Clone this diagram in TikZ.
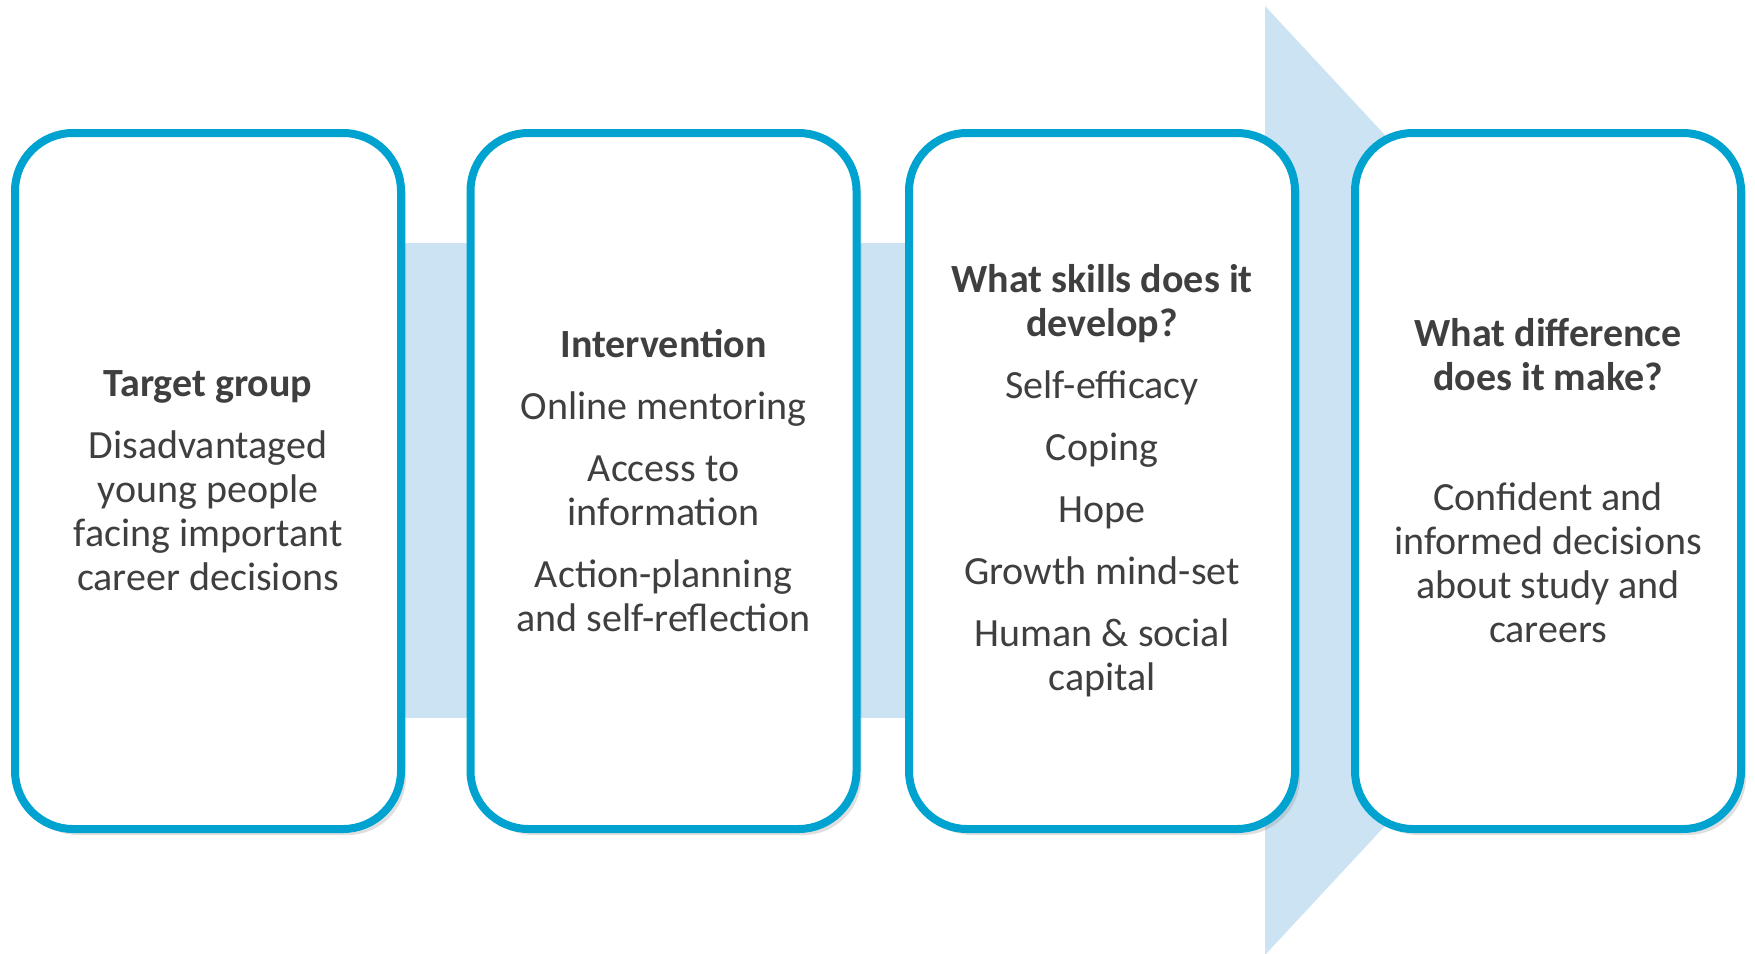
\documentclass[tikz,border=0pt]{standalone}
\usepackage{fontspec}
\setmainfont{Carlito}
\usetikzlibrary{shadows}
\definecolor{frameblue}{HTML}{00A3D0}
\definecolor{bandblue}{HTML}{CBE3F3}
\definecolor{textgray}{HTML}{3F3F3F}
\tikzset{
    stage/.style={draw=frameblue, line width=4pt, fill=white, rounded corners=29pt,
        minimum width=193pt, minimum height=348pt, align=center, text=textgray,
        font=\fontsize{20}{22}\selectfont,
        drop shadow={opacity=0.25, shadow xshift=2.5pt, shadow yshift=-3pt}}, % 圆角方框的样式
    band/.style={fill=bandblue} % 背景箭头的样式
}

\begin{document}
\begin{tikzpicture}[x=0.5pt, y=-0.5pt]
    \def\bandtop{243} \def\bandbot{718} \def\headx{1265} \def\tipx{1706}
    \useasboundingbox (0,0) rectangle (1755,953);
    \clip (0,0) rectangle (1755,953);

    \fill[band] (200,\bandtop) rectangle (\headx+2,\bandbot);
    \fill[band] (\headx,6) -- (\tipx,480.5) -- (\headx,955) -- cycle;

    \node[stage] (target) at (208,481) {\textbf{Target group}\\[9pt]Disadvantaged\\young people\\facing important\\career decisions};
    \node[stage] (intervention) at (663.5,481) {\textbf{Intervention}\\[9pt]Online mentoring\\[9pt]Access to\\information\\[9pt]Action-planning\\and self-reflection};
    \node[stage] (skills) at (1102,481) {\textbf{What skills does it}\\\textbf{develop?}\\[9pt]Self-efficacy\\[9pt]Coping\\[9pt]Hope\\[9pt]Growth mind-set\\[9pt]Human \& social\\capital};
    \node[stage] (outcome) at (1548,481) {\textbf{What difference}\\\textbf{does it make?}\\[38pt]Confident and\\informed decisions\\about study and\\careers};
\end{tikzpicture}
\end{document}
